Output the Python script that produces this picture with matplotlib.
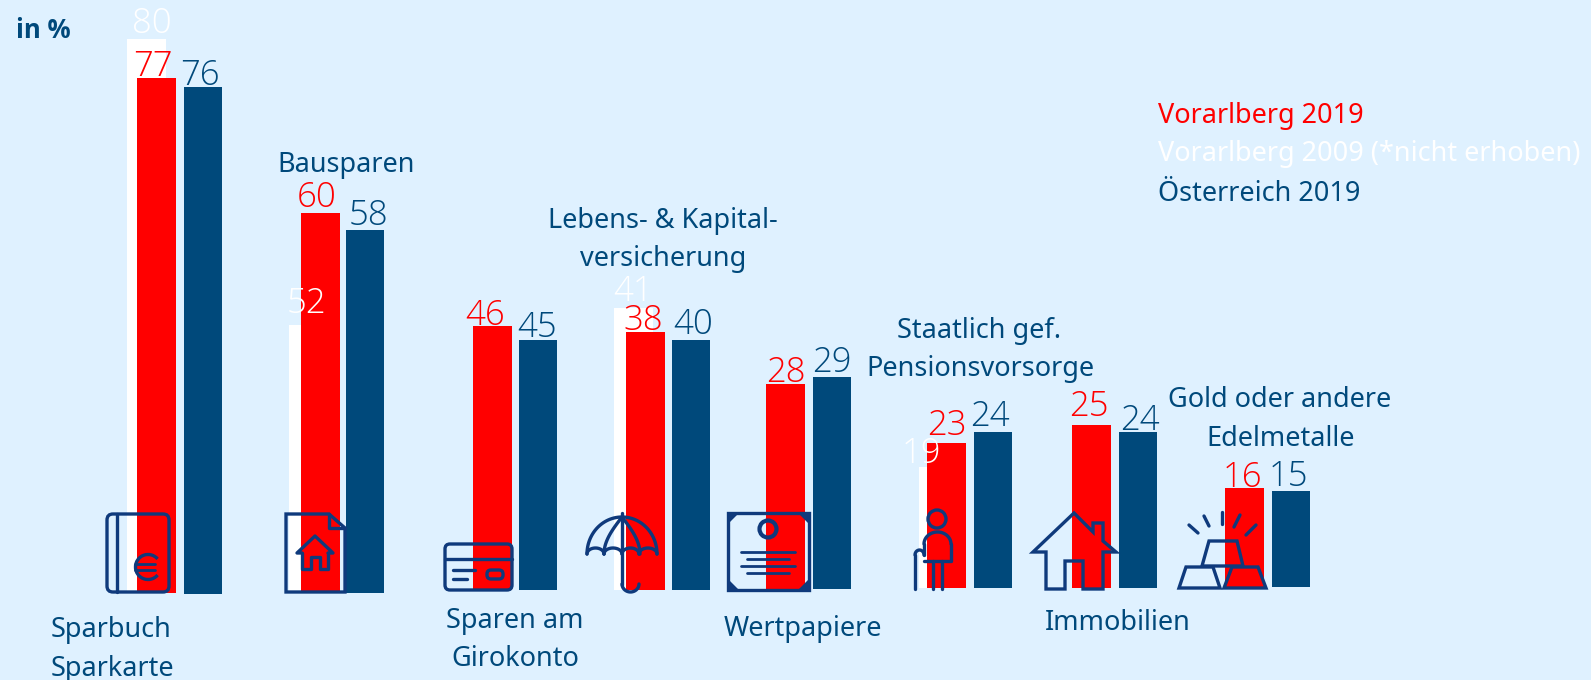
import numpy as np
import matplotlib
matplotlib.use("Agg")
import matplotlib.pyplot as plt
from matplotlib.patches import FancyBboxPatch, Polygon, Circle, Arc

# ---------- data ----------
categories = ["Sparbuch\nSparkarte", "Bausparen", "Sparen am\nGirokonto",
              "Lebens- & Kapital-\nversicherung", "Wertpapiere",
              "Staatlich gef.\nPensionsvorsorge", "Immobilien",
              "Gold oder andere\nEdelmetalle"]
# printed values
vbg_2019_labels = [77, 60, 46, 38, 28, 23, 25, 16]
vbg_2009_labels = [80, 52, None, 41, None, 19, None, None]
at_2019_labels = [76, 58, 45, 40, 29, 24, 24, 15]
# bar lengths as drawn in the reference (they do not follow the printed values strictly)
vbg_2019_drawn = [77.2, 57.0, 39.6, 38.7, 30.7, 21.7, 24.4, 14.8]
vbg_2009_drawn = [83.1, 40.2, 0, 42.3, 0, 18.1, 0, 0]
at_2019_drawn = [76.0, 54.4, 37.5, 37.5, 31.8, 23.4, 23.4, 14.4]
legend_labels = ["Vorarlberg 2019", "Vorarlberg 2009 (*nicht erhoben)", "Österreich 2019"]

# ---------- style ----------
BG = "#dff1ff"; RED = "#ff0000"; WHITE = "#ffffff"; NAVY = "#00497b"; ICON = "#0f3a7c"
FONT = ["Noto Sans", "DejaVu Sans"]
W, H = 1591, 680
PX = 6.67   # pixels per unit
BASE = 593

fig = plt.figure(figsize=(W / 100, H / 100), dpi=100, facecolor=BG)
ax = fig.add_axes([0, 0, 1, 1])
ax.set_xlim(0, W)
ax.set_ylim(-(H - BASE) / PX, BASE / PX)
ax.axis("off")
ov = fig.add_axes([0, 0, 1, 1], zorder=5)
ov.set_xlim(0, W); ov.set_ylim(H, 0); ov.axis("off"); ov.patch.set_alpha(0)

red_left = [137, 301, 473, 626, 766, 927, 1072, 1225]
white_left = [127, 289, 0, 614, 0, 919, 0, 0]
navy_left = [184, 346, 519, 672, 813, 974, 1119, 1272]
lift = [0, 0, .45, .45, .6, .75, .75, .9]
lift_navy = [-.15, 0, .45, .45, .6, .75, .75, .9]
BW = 38.5

ax.bar(white_left, vbg_2009_drawn, width=BW, bottom=lift, align="edge", color=WHITE, zorder=1)
ax.bar(red_left, vbg_2019_drawn, width=BW, bottom=lift, align="edge", color=RED, zorder=2)
ax.bar(navy_left, at_2019_drawn, width=BW - .5, bottom=lift_navy, align="edge", color=NAVY, zorder=2)

# ---------- value labels ----------
red_lab = [(153, 76), (317, 207), (485, 325), (643, 330), (786, 382), (947, 435), (1089, 416), (1242, 487)]
white_lab = [(152, 33), (306, 313), None, (633, 301), None, (921, 463), None, None]
navy_lab = [(200, 85), (368, 225), (537, 337), (693, 334), (832, 372), (990, 426), (1140, 430), (1288, 486)]
def val(pos, v, c):
    if pos is not None and v is not None:
        ov.text(pos[0], pos[1], str(v), color=c, fontsize=25, family="Open Sans", fontweight=300,
                ha="center", va="baseline", zorder=8)
for i in range(8):
    val(white_lab[i], vbg_2009_labels[i], WHITE)
    val(red_lab[i], vbg_2019_labels[i], RED)
    val(navy_lab[i], at_2019_labels[i], NAVY)

# ---------- text ----------
def txt(x, y, s, c=NAVY, ha="center", **k):
    ov.text(x, y, s, color=c, fontsize=k.pop("fs", 19.5), family=k.pop("fam", FONT), ha=ha,
            va="baseline", zorder=8, **k)

cat_pos = [[(51, 637, "left"), (51, 676, "left")],
           [(346.5, 172, "center")],
           [(515, 628, "center"), (515, 666, "center")],
           [(663, 228, "center"), (663, 266, "center")],
           [(803, 636, "center")],
           [(979, 338, "center"), (980, 376, "center")],
           [(1118, 630, "center")],
           [(1280, 407, "center"), (1281, 446, "center")]]
for cat, pos in zip(categories, cat_pos):
    for line, (x, y, ha) in zip(cat.split("\n"), pos):
        txt(x, y, line, ha=ha)
txt(16, 38, "in %", ha="left", fontweight="bold", fam="Open Sans", fs=18.5)
for lab, c, y in zip(legend_labels, [RED, WHITE, NAVY], [123, 161, 201]):
    txt(1158, y, lab, c=c, ha="left")

# ---------- icons ----------
LW = 2.4
def pl(xs, ys, lw=LW):
    ov.plot(xs, ys, color=ICON, lw=lw, solid_capstyle="round", solid_joinstyle="round", zorder=6)
def poly(pts, fc="none", lw=LW):
    ov.add_patch(Polygon(pts, closed=True, fc=fc, ec=ICON, lw=lw, joinstyle="miter", zorder=6))
def rrect(x0, y0, x1, y1, r):
    ov.add_patch(FancyBboxPatch((x0 + r, y0 + r), x1 - x0 - 2 * r, y1 - y0 - 2 * r,
                                boxstyle=f"round,pad={r},rounding_size={r}", fc="none", ec=ICON, lw=LW, zorder=6))

# passbook
rrect(107, 514, 169, 592, 6)
pl([117, 117], [514, 592])
ov.add_patch(Arc((148, 567), 25, 25, theta1=40, theta2=320, ec=ICON, lw=LW, zorder=6))
pl([135, 155], [564, 564], 2); pl([135, 155], [570, 570], 2)
# document with house
poly([(286, 514), (329, 514), (345, 528), (345, 592), (286, 592)])
pl([329, 329, 345], [514, 528, 528])
pl([302, 297, 315, 333, 328], [553, 553, 536, 553, 553])
pl([302, 302, 311, 311, 320, 320, 328, 328], [553, 569, 569, 557, 557, 569, 569, 553])
# card
rrect(445, 544, 512, 590, 5)
pl([445, 512], [559, 559])
pl([453, 475], [570, 570]); pl([453, 467], [579, 579])
rrect(487, 570, 503, 579, 4)
# umbrella
t = np.linspace(np.pi, 0, 60)
pl(622 + 35 * np.cos(t), 554 - 37 * np.sin(t))
for a, b in [(587, 604), (604, 622), (622, 639), (639, 657)]:
    t2 = np.linspace(np.pi, 0, 20)
    pl((a + b) / 2 + (b - a) / 2 * np.cos(t2), 554 - 6 * np.sin(t2))
yy = np.linspace(517, 554, 20)
pl(622 - 18 * np.sin((yy - 517) / 37 * np.pi / 2), yy)
pl(622 + 18 * np.sin((yy - 517) / 37 * np.pi / 2), yy)
pl([622, 622], [513, 585])
t3 = np.linspace(np.pi, 0, 20)
pl(630.5 + 8.5 * np.cos(t3), 584 + 8 * np.sin(t3))
# certificate
poly([(728, 513), (809, 513), (809, 590), (728, 590)])
for cx, cy, sx, sy in [(728, 513, 1, 1), (809, 513, -1, 1), (728, 590, 1, -1), (809, 590, -1, -1)]:
    poly([(cx, cy), (cx + sx * 10, cy), (cx, cy + sy * 10)], fc=ICON, lw=1)
ov.add_patch(Circle((768, 529), 8.5, fc="none", ec=ICON, lw=3, zorder=6))
for y, a, b in [(552, 741, 795), (559, 747, 789), (566, 741, 795), (573, 747, 789)]:
    pl([a, b], [y, y], 2)
# person
ov.add_patch(Circle((937, 519), 9, fc="none", ec=ICON, lw=LW, zorder=6))
t = np.linspace(np.pi, 0, 30)
pl(937.5 + 13.5 * np.cos(t), 544 - 12 * np.sin(t))
pl([951, 951, 924], [544, 561, 561])
pl([924, 924], [544, 555])
pl([933, 933], [561, 589]); pl([942, 942], [561, 589])
t = np.linspace(np.pi, 0, 15)
pl(919.5 + 4.5 * np.cos(t), 555 - 5 * np.sin(t))
pl([915, 915], [555, 589])
# house
poly([(1033, 552), (1074, 513), (1093, 532), (1093, 523), (1103, 523), (1103, 541), (1116, 552),
      (1103, 552), (1103, 589), (1083, 589), (1083, 561), (1065, 561), (1065, 589), (1046, 589), (1046, 552)])
# gold
poly([(1179, 588), (1220, 588), (1213, 567), (1186, 567)])
poly([(1224, 588), (1266, 588), (1258, 567), (1232, 567)])
poly([(1202, 566), (1243, 566), (1237, 541), (1209, 541)])
for (a, b), (c, d) in [((1189, 525), (1198, 533)), ((1204, 516), (1209, 526)), ((1222, 512), (1222, 524)),
                       ((1240, 515), (1234, 527)), ((1256, 525), (1246, 535))]:
    pl([a, c], [b, d])

fig.savefig("out.png", dpi=100, facecolor=BG)
